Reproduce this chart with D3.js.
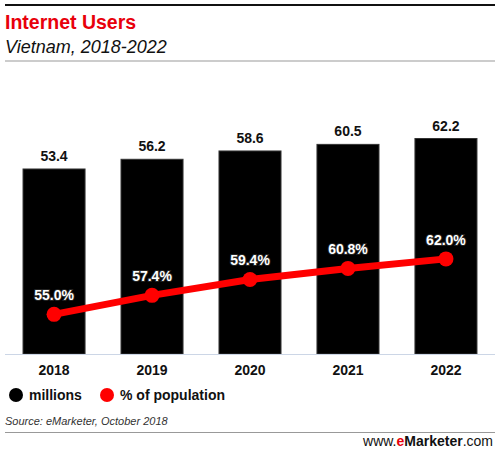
<!DOCTYPE html>
<html lang="en">
<head>
<meta charset="UTF-8">
<title>Internet Users</title>
<script src="https://d3js.org/d3.v7.min.js"></script>
<style>
  body { margin: 0; background: #fff; }
  text { font-family: "Liberation Sans", Arial, sans-serif; }
</style>
</head>
<body>
<div id="chart"></div>
<script>
const years = ["2018", "2019", "2020", "2021", "2022"];
const millions = [53.4, 56.2, 58.6, 60.5, 62.2];
const pctPopulation = [55.0, 57.4, 59.4, 60.8, 62.0];

const W = 500, H = 451;
const baseY = 354;

const svg = d3.select("#chart").append("svg")
    .attr("width", W).attr("height", H);

// header
svg.append("line").attr("x1", 5).attr("x2", 495).attr("y1", 5).attr("y2", 5)
    .attr("stroke", "#111").attr("stroke-width", 2);
svg.append("text").attr("x", 5).attr("y", 29)
    .attr("fill", "#e8000b").attr("font-size", 19.5).attr("font-weight", "bold")
    .text("Internet Users");
svg.append("text").attr("x", 5).attr("y", 53)
    .attr("fill", "#111").attr("font-size", 18).attr("font-style", "italic")
    .text("Vietnam, 2018-2022");
svg.append("line").attr("x1", 5).attr("x2", 495).attr("y1", 61).attr("y2", 61)
    .attr("stroke", "#999").attr("stroke-width", 1);

// scales
const x = d3.scaleBand().domain(years).range([5, 495])
    .paddingInner(0.367).paddingOuter(0.184);
const yBar = d3.scaleLinear().domain([0, 62.2]).range([baseY, 138.5]);
const yPct = d3.scaleLinear().domain([50, 77]).range([baseY, 140]);

const barData = years.map((y, i) => ({ year: y, v: millions[i] }));
const pctData = years.map((y, i) => ({ year: y, v: pctPopulation[i] }));

// bars
svg.selectAll(".bar").data(barData).enter().append("rect")
    .attr("class", "bar")
    .attr("x", d => x(d.year))
    .attr("y", d => yBar(d.v))
    .attr("width", x.bandwidth())
    .attr("height", d => baseY - yBar(d.v))
    .attr("fill", "#000")
    .attr("stroke", "#333").attr("stroke-width", 1);

svg.selectAll(".barlabel").data(barData).enter().append("text")
    .attr("x", d => x(d.year) + x.bandwidth() / 2)
    .attr("y", d => yBar(d.v) - 8)
    .attr("text-anchor", "middle")
    .attr("font-size", 14).attr("font-weight", "bold").attr("fill", "#111")
    .text(d => d.v.toFixed(1));

// baseline
svg.append("line").attr("x1", 5).attr("x2", 495).attr("y1", baseY + 0.5).attr("y2", baseY + 0.5)
    .attr("stroke", "#ccd6e6").attr("stroke-width", 1);

// year axis
const xAxis = d3.axisBottom(x).tickSize(0).tickPadding(10);
const gx = svg.append("g").attr("transform", `translate(0,${baseY + 1})`).call(xAxis);
gx.select(".domain").remove();
gx.selectAll("text")
    .attr("font-family", "'Liberation Sans', Arial, sans-serif")
    .attr("font-size", 14).attr("font-weight", "bold").attr("fill", "#111");

// line
const line = d3.line()
    .x(d => x(d.year) + x.bandwidth() / 2)
    .y(d => yPct(d.v));
svg.append("path").datum(pctData)
    .attr("d", line).attr("fill", "none")
    .attr("stroke", "#f00").attr("stroke-width", 7);
svg.selectAll(".pt").data(pctData).enter().append("circle")
    .attr("cx", d => x(d.year) + x.bandwidth() / 2)
    .attr("cy", d => yPct(d.v))
    .attr("r", 7.5).attr("fill", "#f00");

svg.selectAll(".pctlabel").data(pctData).enter().append("text")
    .attr("x", d => x(d.year) + x.bandwidth() / 2)
    .attr("y", d => yPct(d.v) - 14)
    .attr("text-anchor", "middle")
    .attr("font-size", 14).attr("font-weight", "bold")
    .attr("fill", "#fff").attr("stroke", "#222").attr("stroke-width", 2)
    .attr("paint-order", "stroke")
    .text(d => d.v.toFixed(1) + "%");

// legend
const legend = [
  { label: "millions", color: "#000", x: 16 },
  { label: "% of population", color: "#f00", x: 107 }
];
const lg = svg.selectAll(".lg").data(legend).enter().append("g")
    .attr("transform", d => `translate(${d.x},395)`);
lg.append("circle").attr("r", 7).attr("fill", d => d.color);
lg.append("text").attr("x", 13).attr("y", 5)
    .attr("font-size", 14).attr("font-weight", "bold").attr("fill", "#111")
    .text(d => d.label);

// footer
svg.append("text").attr("x", 5).attr("y", 425)
    .attr("font-size", 11).attr("font-style", "italic").attr("fill", "#333")
    .text("Source: eMarketer, October 2018");
svg.append("line").attr("x1", 5).attr("x2", 495).attr("y1", 432.5).attr("y2", 432.5)
    .attr("stroke", "#999").attr("stroke-width", 1);
const brand = svg.append("text").attr("x", 493).attr("y", 446)
    .attr("text-anchor", "end").attr("font-size", 14).attr("fill", "#111");
brand.append("tspan").text("www.");
brand.append("tspan").attr("fill", "#e8000b").attr("font-weight", "bold").text("e");
brand.append("tspan").attr("font-weight", "bold").text("Marketer");
brand.append("tspan").text(".com");
</script>
</body>
</html>
